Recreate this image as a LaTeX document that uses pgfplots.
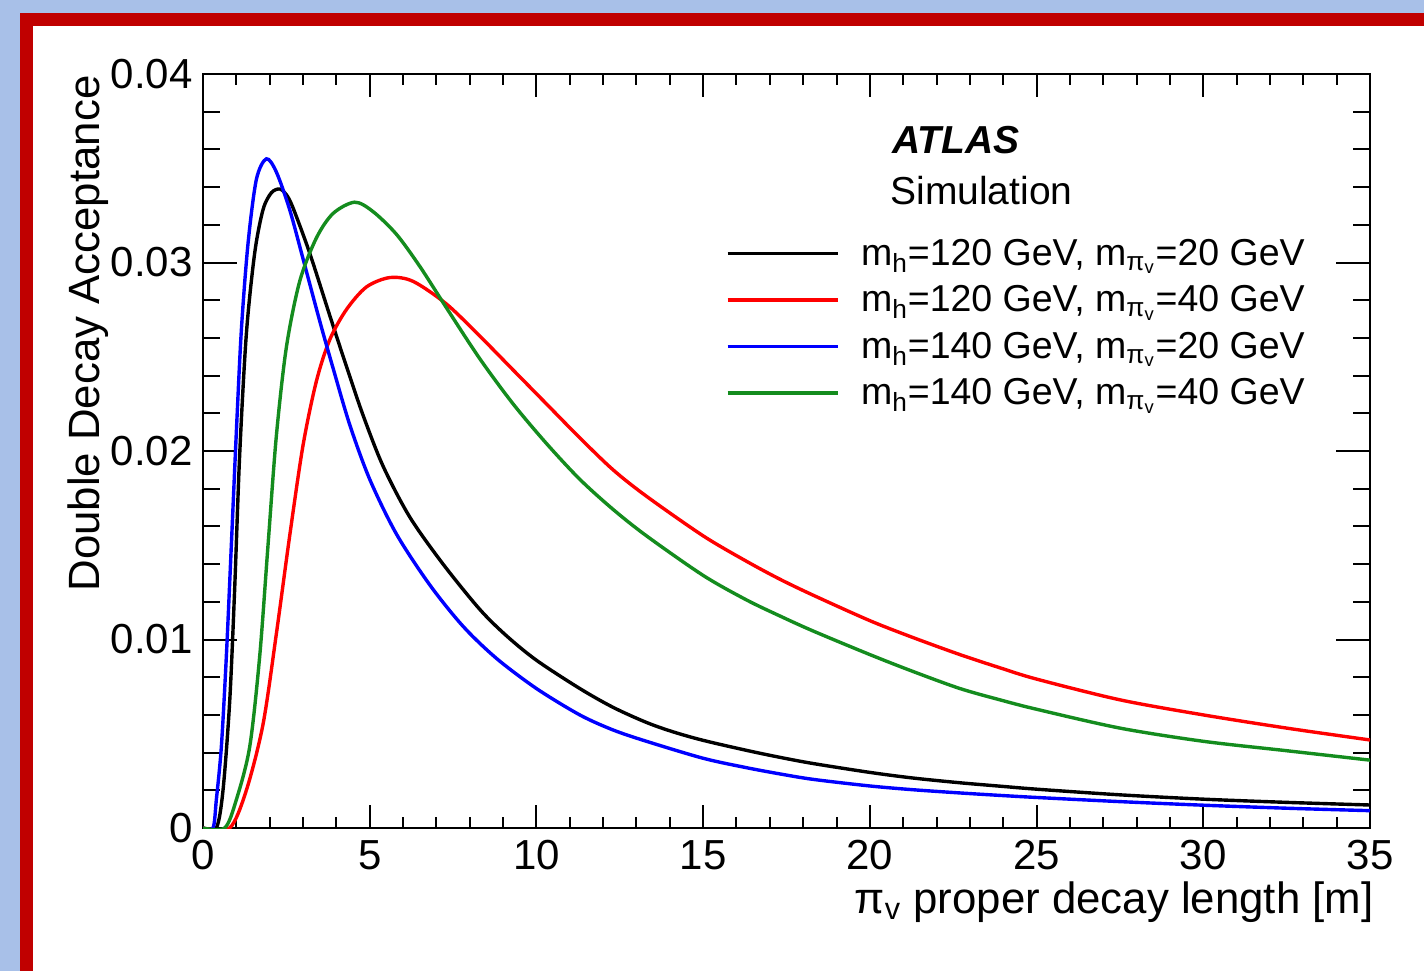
\documentclass[border=0pt]{standalone}
\usepackage{fontspec}
\setmainfont{Liberation Sans}
\usepackage{pgfplots}
\usepackage{pgfplotstable}
\pgfplotsset{compat=1.18}
\definecolor{bgblue}{RGB}{168,192,232}
\definecolor{framered}{RGB}{192,0,0}
\definecolor{cgreen}{RGB}{20,140,30}
\definecolor{cred}{RGB}{255,0,0}
\definecolor{cblue}{RGB}{0,0,255}

% m_h=120, m=20 (black)
\pgfplotstableread{
x y
0 0
0.4 0
0.6 0.0020
0.8 0.0067
0.95 0.0127
1.1 0.0198
1.3 0.0262
1.55 0.0305
1.8 0.0328
2.05 0.0337
2.3 0.0339
2.5 0.0336
2.7 0.0329
3.2 0.0305
3.8 0.0272
4.3 0.0245
4.8 0.0219
5.4 0.0192
6.2 0.0165
7.2 0.0140
8.3 0.0116
9.1 0.0102
10.0 0.0089
11.3 0.0074
12.3 0.0064
13.3 0.0056
14.1 0.0051
15.0 0.00465
16.3 0.00412
17.3 0.00375
18.3 0.00342
20.0 0.00295
21.3 0.00265
22.7 0.0024
23.9 0.00222
25 0.00206
27.5 0.00176
30 0.00153
32.5 0.00136
35 0.00122
}\tblack

% m_h=120, m=40 (red)
\pgfplotstableread{
x y
0 0
0.8 0
1.3 0.0020
1.8 0.0055
2.2 0.0103
2.6 0.0155
3.0 0.0203
3.4 0.0237
3.8 0.0259
4.3 0.0275
4.9 0.0287
5.6 0.0292
6.3 0.0290
7.3 0.0278
8.3 0.0261
9.3 0.0243
10.3 0.0225
11.3 0.0207
12.3 0.0190
13.3 0.0176
15.0 0.0155
16.3 0.01415
17.3 0.0132
18.3 0.01235
20.0 0.0110
21.3 0.0101
22.7 0.0092
23.9 0.0085
25 0.0079
27.5 0.0068
30 0.0060
32.5 0.0053
35 0.00467
}\tred

% m_h=140, m=20 (blue)
\pgfplotstableread{
x y
0 0
0.3 0
0.4 0.0015
0.55 0.0043
0.7 0.0091
0.85 0.0150
1.0 0.0210
1.15 0.0264
1.35 0.0310
1.6 0.0344
1.9 0.0355
2.2 0.0348
2.6 0.0328
3.0 0.0302
3.5 0.0269
3.9 0.0244
4.4 0.0214
5.0 0.0185
5.8 0.0156
6.8 0.0129
7.8 0.0107
8.8 0.0090
10.0 0.0074
11.3 0.0060
12.3 0.0052
13.3 0.0046
15.0 0.0037
16.3 0.0032
17.3 0.00287
18.3 0.00258
20.0 0.00223
21.3 0.00203
22.7 0.00186
23.9 0.00173
25 0.00162
27.5 0.0014
30 0.00121
32.5 0.00105
35 0.00092
}\tblue

% m_h=140, m=40 (green)
\pgfplotstableread{
x y
0 0
0.65 0
1.0 0.0015
1.4 0.0043
1.7 0.0091
1.95 0.0150
2.2 0.0208
2.5 0.0255
2.9 0.0290
3.4 0.0313
3.9 0.0326
4.55 0.0332
5.1 0.0327
5.8 0.0315
6.5 0.0298
7.3 0.0276
8.3 0.0249
9.3 0.0225
10.3 0.0204
11.3 0.0185
12.3 0.0169
13.3 0.0155
15.0 0.0134
16.3 0.0121
17.3 0.01125
18.3 0.01045
20.0 0.0092
21.3 0.0083
22.7 0.0074
23.9 0.0068
25 0.0063
27.5 0.0053
30 0.0046
32.5 0.0041
35 0.0036
}\tgreen

\begin{document}
\begin{tikzpicture}
\fill[bgblue] (0,0) rectangle (712pt,485.5pt);
\fill[framered] (10pt,0) rectangle (712pt,479pt);
\fill[white] (16.5pt,0) rectangle (712pt,472.5pt);
\useasboundingbox (0,0) rectangle (712pt,485.5pt);
\begin{axis}[
  at={(101.5pt,71.5pt)}, anchor=south west,
  scale only axis, width=583.5pt, height=377pt,
  xmin=0, xmax=35, ymin=0, ymax=0.04,
  xtick={0,5,...,35},
  ytick={0,0.01,0.02,0.03,0.04},
  yticklabels={0,0.01,0.02,0.03,0.04},
  scaled y ticks=false,
  minor x tick num=4, minor y tick num=4,
  tick align=inside,
  axis line style={line width=1.2pt},
  every tick/.style={black, line width=1pt},
  major x tick style={/pgfplots/major tick length=11.3pt},
  minor x tick style={/pgfplots/minor tick length=5.6pt},
  major y tick style={/pgfplots/major tick length=17pt},
  minor y tick style={/pgfplots/minor tick length=8.5pt},
  /pgf/number format/assume math mode=true,
  tick label style={font=\fontsize{21}{25}\selectfont},
  xticklabel style={inner sep=0pt, yshift=-6pt},
  yticklabel style={inner sep=0pt, xshift=-5pt},
  legend style={at={(0.44816,0.78382)}, anchor=north west, draw=none, fill=none,
    inner sep=0pt, outer sep=0pt, row sep=0pt, column sep=10.8pt,
    font=\fontsize{18.75}{23}\selectfont,
    nodes={inner sep=0pt, text height=14pt, text depth=9.3pt}},
  legend cell align=left,
  legend image code/.code={\draw[#1] (0pt,3.5pt) -- (55pt,3.5pt);},
  every axis plot/.append style={line width=1.7pt, smooth},
]
\addplot[black] table {\tblack};
\addlegendentry{m\textsubscript{h}=120 GeV, m\textsubscript{π\textsubscript{v}}=20 GeV}
\addplot[cred] table {\tred};
\addlegendentry{m\textsubscript{h}=120 GeV, m\textsubscript{π\textsubscript{v}}=40 GeV}
\addplot[cblue] table {\tblue};
\addlegendentry{m\textsubscript{h}=140 GeV, m\textsubscript{π\textsubscript{v}}=20 GeV}
\addplot[cgreen] table {\tgreen};
\addlegendentry{m\textsubscript{h}=140 GeV, m\textsubscript{π\textsubscript{v}}=40 GeV}
\end{axis}
\node[anchor=base west, inner sep=0pt, font=\fontsize{19.5}{23}\selectfont\bfseries\itshape] at (445.85pt,408.85pt) {ATLAS};
\node[anchor=base west, inner sep=0pt, font=\fontsize{19.5}{23}\selectfont] at (445pt,383pt) {Simulation};
\node[anchor=base east, rotate=90, inner sep=0pt, font=\fontsize{21.9}{25}\selectfont] at (49.5pt,448pt) {Double Decay Acceptance};
\node[anchor=base east, inner sep=0pt, font=\fontsize{21.9}{25}\selectfont] at (687pt,29pt) {π\textsubscript{v} proper decay length [m]};
\end{tikzpicture}
\end{document}
